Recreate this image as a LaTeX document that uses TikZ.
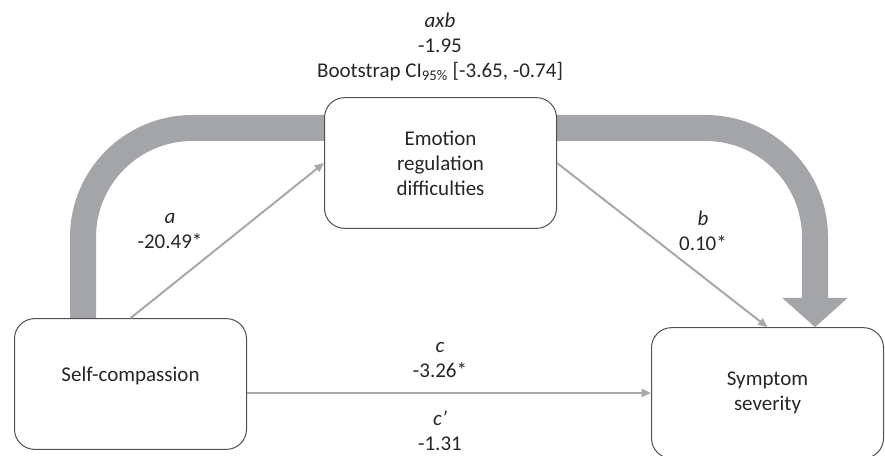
\documentclass[tikz,border=0pt]{standalone}
\usepackage{fontspec}
\setmainfont{Carlito}
\usetikzlibrary{arrows.meta,backgrounds}

\definecolor{bandgray}{HTML}{A4A5A8}
\definecolor{linegray}{HTML}{A8A8AA}
\definecolor{boxline}{HTML}{505050}
\definecolor{textgray}{HTML}{262626}

\tikzset{
  varbox/.style={rectangle,rounded corners=15pt,draw=boxline,fill=white,line width=0.75pt,
    minimum width=174pt,minimum height=98pt,align=center,text=textgray},
  coef/.style={align=center,text=textgray},
  band/.style={draw=bandgray,line width=19.5pt,rounded corners=82pt},
  thinarrow/.style={draw=linegray,line width=1.5pt,-{Triangle[length=7pt,width=6pt]}}
}

\begin{document}
\begin{tikzpicture}[x=0.75pt,y=-0.75pt,font=\fontsize{15.75}{18.75}\selectfont]
\useasboundingbox (0,0) rectangle (885,456);

\coordinate (bl) at (83,128);
\coordinate (br) at (815,128);

\path (130.5,384) node[varbox,text depth=14pt] (sc) {Self-compassion};
\path (440.5,163) node[varbox] (em) {Emotion\\regulation\\difficulties};
\path (767.5,393) node[varbox] (sm) {Symptom\\severity};

% indirect effect band
\begin{scope}[on background layer]
\draw[band] (sc.north -| bl) |- (em.west |- bl);
\draw[band,-{Triangle[length=22pt,width=48pt]}] (em.east |- br) -| (sm.north -| br);
\end{scope}

\draw[thinarrow] (sc.north) -- (em.west);
\draw[thinarrow] (em.east) -- (sm.north);
\draw[thinarrow] (sc.east |- sm.west) -- (sm.west);

\path (440,47) node[coef] (ab) {\textit{axb}\\-1.95\\Bootstrap CI\textsubscript{95\%} [-3.65, -0.74]};
\path (170,231) node[coef] (pa) {\textit{a}\\-20.49*};
\path (703,231) node[coef] (pb) {\textit{b}\\0.10*};
\path (440,360) node[coef] (pc) {\textit{c}\\-3.26*};
\path (440,431) node[coef] (pcd) {\textit{c\textquoteright}\\-1.31};
\end{tikzpicture}
\end{document}
